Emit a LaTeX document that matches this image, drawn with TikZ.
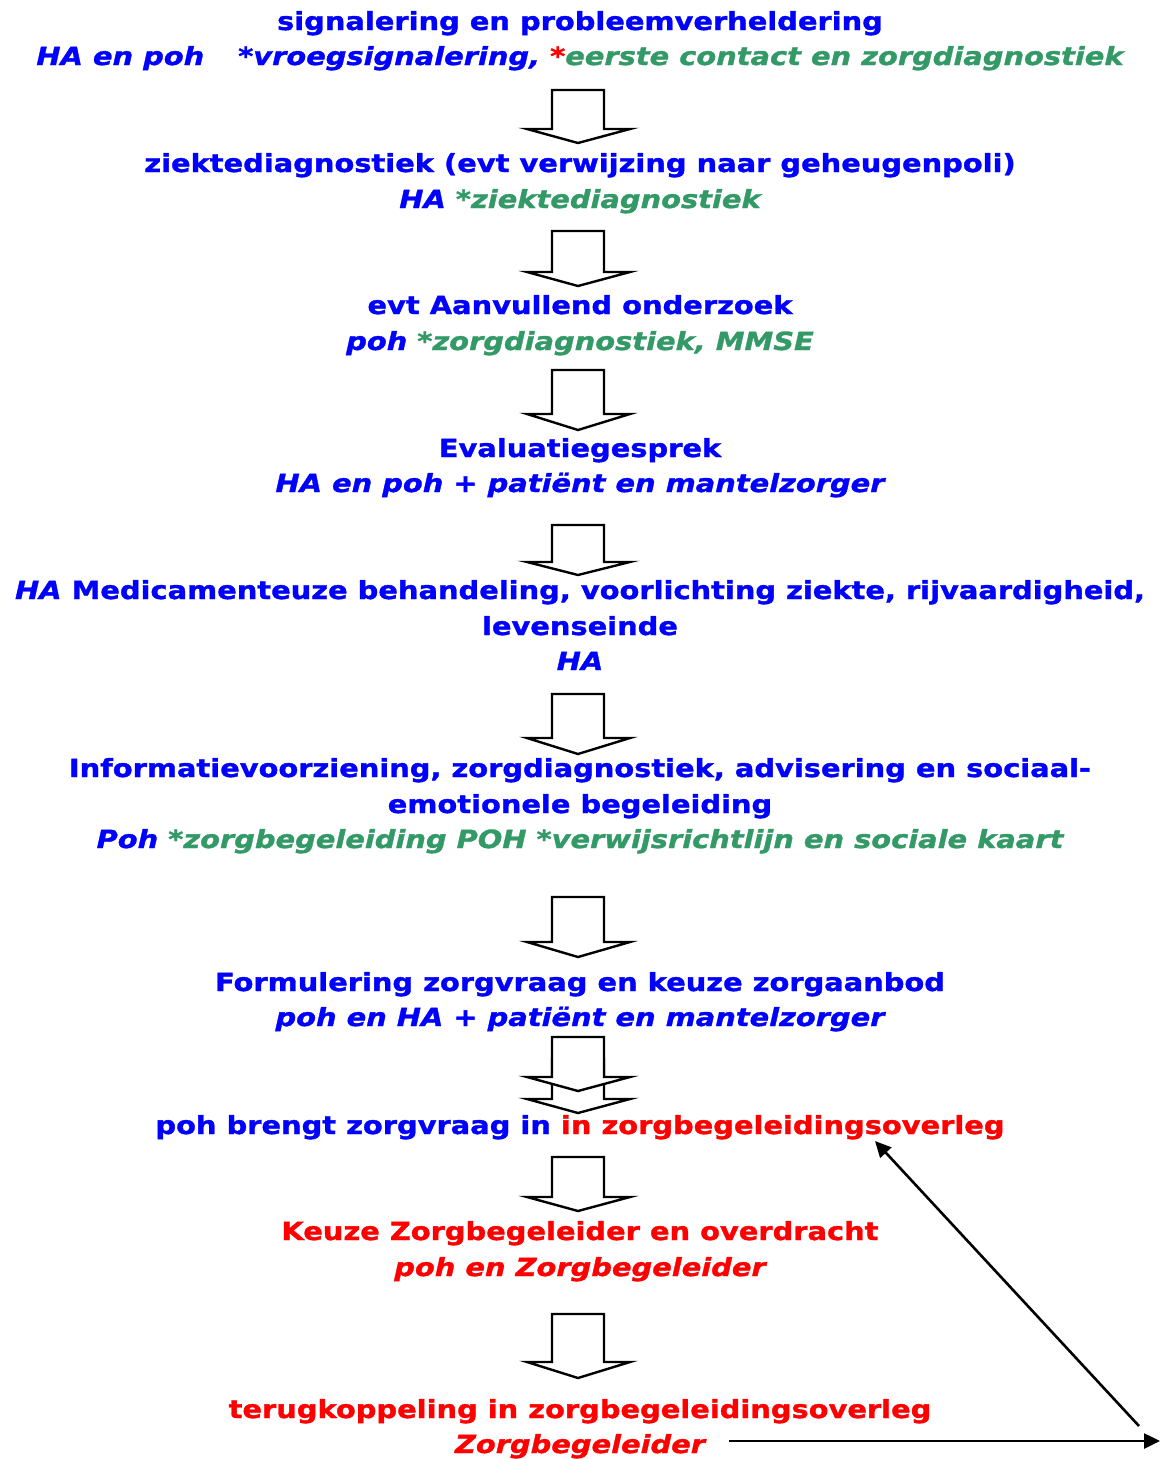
\documentclass[tikz,border=0pt]{standalone}
\usepackage{fontspec}
\setmainfont[FakeStretch=1.155, BoldFeatures={FakeBold=1.3}, BoldItalicFeatures={FakeBold=1.3}]{DejaVu Sans}
\usetikzlibrary{arrows.meta}
\definecolor{tb}{RGB}{0,0,255}
\definecolor{tg}{RGB}{51,153,102}
\definecolor{tr}{RGB}{255,0,0}
\tikzset{
 txt/.style={anchor=base, inner sep=0pt, font=\fontsize{25}{30}\selectfont\bfseries, text=tb},
 blk/.style={draw=black, fill=white, line width=2.4pt, line join=miter},
 conn/.style={line width=2.6pt, -{Triangle[length=16pt,width=15pt]}}
}
\newcommand\blkarrow[3]{%
 \draw[blk] (552,#1) -- (604,#1) -- (604,#2) -- (630,#2) -- (578,#3) -- (527,#2) -- (552,#2) -- cycle;}
\begin{document}
\begin{tikzpicture}[x=1pt,y=-1pt]
\useasboundingbox (0,0) rectangle (1160,1459);
% block arrows
\blkarrow{90}{129}{143}
\blkarrow{231}{272}{286}
\blkarrow{370}{414}{430}
\blkarrow{525}{562}{575}
\blkarrow{694}{738}{754}
\blkarrow{897}{942}{957}
\blkarrow{1059}{1099}{1113}
\blkarrow{1037}{1077}{1091}
\blkarrow{1157}{1197}{1211}
\blkarrow{1314}{1362}{1378}
% texts
\node[txt] (t1) at (580,30) {signalering en probleemverheldering};
\node[txt] (t2) at (580,65) {\itshape HA en poh\hspace{34pt}*vroegsignalering, \textcolor{tr}{*}\textcolor{tg}{eerste contact en zorgdiagnostiek}};
\node[txt] (t3) at (580,172) {ziektediagnostiek (evt verwijzing naar geheugenpoli)};
\node[txt] (t4) at (580,208) {\itshape HA \textcolor{tg}{*ziektediagnostiek}};
\node[txt] (t5) at (580,314) {evt Aanvullend onderzoek};
\node[txt] (t6) at (580,350) {\itshape poh \textcolor{tg}{*zorgdiagnostiek, MMSE}};
\node[txt] (t7) at (580,457) {Evaluatiegesprek};
\node[txt] (t8) at (580,492) {\itshape HA en poh + patiënt en mantelzorger};
\node[txt] (t9) at (580,599) {{\itshape HA} Medicamenteuze behandeling, voorlichting ziekte, rijvaardigheid,};
\node[txt] (t10) at (580,635) {levenseinde};
\node[txt] (t11) at (580,670) {\itshape HA};
\node[txt] (t12) at (580,777) {Informatievoorziening, zorgdiagnostiek, advisering en sociaal-};
\node[txt] (t13) at (580,813) {emotionele begeleiding};
\node[txt] (t14) at (580,848) {\itshape Poh \textcolor{tg}{*zorgbegeleiding POH *verwijsrichtlijn en sociale kaart}};
\node[txt] (t15) at (580,991) {Formulering zorgvraag en keuze zorgaanbod};
\node[txt] (t16) at (580,1026) {\itshape poh en HA + patiënt en mantelzorger};
\node[txt] (t17) at (580,1134) {poh brengt zorgvraag in \textcolor{tr}{in zorgbegeleidingsoverleg}};
\node[txt, text=tr] (t18) at (580,1240) {Keuze Zorgbegeleider en overdracht};
\node[txt, text=tr] (t19) at (580,1276) {\itshape poh en Zorgbegeleider};
\node[txt, text=tr] (t20) at (580,1418) {terugkoppeling in zorgbegeleidingsoverleg};
\node[txt, text=tr] (t21) at (580,1453) {\itshape Zorgbegeleider};
% connectors
\coordinate (fbstart) at (1139,1426);
\coordinate (fbend) at (875,1141);
\coordinate (hstart) at (729,1441);
\coordinate (hend) at (1160,1441);
\draw[conn] (fbstart) -- (fbend);
\draw[conn] (hstart) -- (hend);
\end{tikzpicture}
\end{document}
